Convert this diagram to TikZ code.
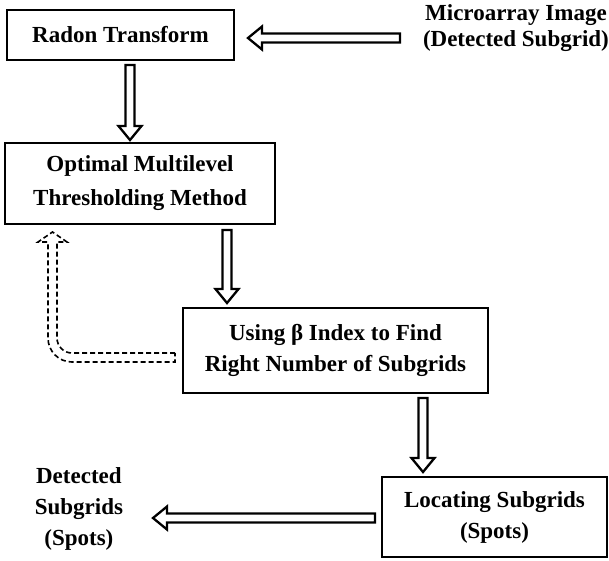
\documentclass[tikz,border=0pt]{standalone}
\usepackage{fontspec}
\setmainfont{Liberation Serif}
\usetikzlibrary{positioning, calc}

\begin{document}
\begin{tikzpicture}[
    x=1pt, y=-1pt,
    procbox/.style={rectangle, draw=black, line width=2.4pt, inner sep=0pt, outer sep=0pt,
      align=center, font=\bfseries\fontsize{23}{31}\selectfont},
    iotext/.style={inner sep=0pt, outer sep=0pt, align=center, font=\bfseries\fontsize{23}{31}\selectfont},
    blockarrow/.style={draw=black, line width=2.3pt, to path={
        ($(\tikztostart)!4.5pt!90:(\tikztotarget)$)
        -- ($(\tikztotarget)!14pt!(\tikztostart)!4.5pt!90:(\tikztotarget)$)
        -- ($(\tikztotarget)!14pt!(\tikztostart)!11.5pt!90:(\tikztotarget)$)
        -- (\tikztotarget)
        -- ($(\tikztotarget)!14pt!(\tikztostart)!11.5pt!-90:(\tikztotarget)$)
        -- ($(\tikztotarget)!14pt!(\tikztostart)!4.5pt!-90:(\tikztotarget)$)
        -- ($(\tikztostart)!4.5pt!-90:(\tikztotarget)$) -- cycle}},
    fbarrow/.style={draw=black, line width=1.6pt, dash pattern=on 5pt off 3pt}
  ]
  \useasboundingbox (0,0) rectangle (609,560);

  \node[procbox, minimum width=227pt, minimum height=50pt] (radon) at (120.5,35) {Radon Transform};
  \node[procbox, minimum width=270pt, minimum height=81pt, font=\bfseries\fontsize{23}{34}\selectfont,
        below=83pt of radon, xshift=19.5pt] (optim) {Optimal Multilevel\\Thresholding Method};
  \node[procbox, minimum width=305pt, minimum height=85pt,
        below=84pt of optim, xshift=195.5pt] (beta) {Using β Index to Find\\Right Number of Subgrids};
  \node[procbox, minimum width=225pt, minimum height=80pt,
        below=84pt of beta, xshift=159pt] (locate) {Locating Subgrids\\(Spots)};
  \node[iotext, font=\bfseries\fontsize{23}{26}\selectfont,
        right=189pt of radon, yshift=7pt] (src) {Microarray Image\\(Detected Subgrid)};
  \node[iotext, left=259pt of locate, yshift=8pt] (out) {Detected\\Subgrids\\(Spots)};

  \draw[blockarrow] ([xshift=-23pt, yshift=-10pt]src.west) to ([xshift=14pt, yshift=-3pt]radon.east);
  \draw[blockarrow] ([xshift=9.5pt, yshift=-5pt]radon.south) to ([xshift=-10pt, yshift=3pt]optim.north);
  \draw[blockarrow] ([xshift=87pt, yshift=-6pt]optim.south) to ([xshift=-108.5pt, yshift=5pt]beta.north);
  \draw[blockarrow] ([xshift=87.5pt, yshift=-5pt]beta.south) to ([xshift=-71.5pt, yshift=5pt]locate.north);
  \draw[blockarrow] ([xshift=-7pt, yshift=-1pt]locate.west) to ([xshift=30pt, yshift=-9pt]out.east);

  % dashed feedback from the beta box back up to the thresholding box
  \coordinate (fbtail) at ([xshift=-8pt, yshift=-7pt]beta.west);
  \coordinate (fbtip)  at ([xshift=47.5pt, yshift=-8pt]optim.south west);
  \draw[fbarrow] let \p1=(fbtail), \p2=(fbtip) in
    (\x1,\y1+4.5pt) -- (\x2+19.5pt,\y1+4.5pt) arc[start angle=270, end angle=180, radius=15pt]
    -- (\x2+4.5pt,\y2-10pt) -- (\x2+14.5pt,\y2-10pt) -- (\x2,\y2) -- (\x2-14.5pt,\y2-10pt)
    -- (\x2-4.5pt,\y2-10pt) -- (\x2-4.5pt,\y1+19.5pt) arc[start angle=180, end angle=270, radius=24pt]
    -- (\x1,\y1-4.5pt) -- cycle;
\end{tikzpicture}
\end{document}
